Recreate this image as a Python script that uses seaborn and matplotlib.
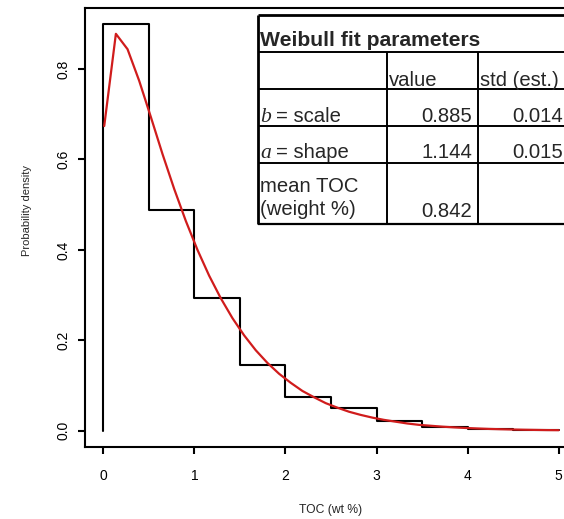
import matplotlib
matplotlib.use("Agg")
import matplotlib.pyplot as plt
import seaborn as sns
import numpy as np
import pandas as pd

# ---------------- data ----------------
bin_edges = [0.0, 0.5, 1.0, 1.5, 2.0, 2.5, 3.0, 3.5, 4.0, 4.5, 5.0]
hist_density = [0.900, 0.488, 0.294, 0.146, 0.075, 0.051, 0.022, 0.009, 0.004, 0.002]

curve_x = [0.010, 0.138, 0.266, 0.394, 0.522, 0.650, 0.778, 0.906, 1.034, 1.162,
           1.290, 1.418, 1.546, 1.674, 1.802, 1.930, 2.058, 2.186, 2.314, 2.442,
           2.570, 2.698, 2.826, 2.954, 3.082, 3.210, 3.338, 3.466, 3.594, 3.722,
           3.850, 3.978, 4.106, 4.234, 4.362, 4.490, 4.618, 4.746, 4.874, 5.000]
curve_y = [0.674, 0.878, 0.844, 0.774, 0.694, 0.612, 0.535, 0.464, 0.400, 0.343,
           0.293, 0.249, 0.211, 0.178, 0.150, 0.126, 0.106, 0.088, 0.074, 0.061,
           0.051, 0.042, 0.035, 0.029, 0.024, 0.020, 0.016, 0.013, 0.011, 0.009,
           0.0074, 0.0061, 0.0050, 0.0040, 0.0033, 0.0027, 0.0022, 0.0018, 0.0014, 0.0012]

x_ticks = [0, 1, 2, 3, 4, 5]
y_ticks = [0.0, 0.2, 0.4, 0.6, 0.8]
y_tick_labels = ["0.0", "0.2", "0.4", "0.6", "0.8"]

table_title = "Weibull fit parameters"
table_header = ["value", "std (est.)"]
param_symbols = ["b", "a"]
param_names = ["= scale", "= shape"]
param_values = ["0.885", "1.144"]
param_std = ["0.014", "0.015"]
mean_label = ["mean TOC", "(weight %)"]
mean_value = "0.842"

# ---------------- style ----------------
sns.set_style("ticks")
plt.rcParams["font.family"] = ["Liberation Sans", "DejaVu Sans"]

W, H = 564, 519
fig = plt.figure(figsize=(W / 100, H / 100), dpi=100)

# axes in pixel geometry (extends beyond right edge as in the reference)
left_px, right_px, top_px, bottom_px = 85.1, 576.9, 7.6, 447.0
ax = fig.add_axes([left_px / W, 1 - bottom_px / H,
                   (right_px - left_px) / W, (bottom_px - top_px) / H])

step_x = [bin_edges[0]] + bin_edges
step_y = [0.0] + hist_density + [hist_density[-1]]
hist_df = pd.DataFrame({"x": step_x, "y": step_y})
sns.lineplot(data=hist_df, x="x", y="y", ax=ax, estimator=None, sort=False,
             drawstyle="steps-post", color="black", linewidth=1.5, zorder=2)

curve_df = pd.DataFrame({"x": curve_x, "y": curve_y})
sns.lineplot(data=curve_df, x="x", y="y", ax=ax, estimator=None, sort=False,
             color="#d01c1c", linewidth=1.6, zorder=3)

ax.set_xlim(-0.2, 5.2)
ax.set_ylim(-0.036, 0.936)
ax.set_xticks(x_ticks)
ax.set_xticklabels([str(v) for v in x_ticks])
ax.set_yticks(y_ticks)
ax.set_yticklabels(y_tick_labels)
ax.set_xlabel("")
ax.set_ylabel("")
for s in ax.spines.values():
    s.set_visible(True)
    s.set_linewidth(1.5)
    s.set_color("black")
ax.tick_params(axis="both", direction="out", length=5.2, width=1.5, colors="black",
               labelsize=10)
ax.tick_params(axis="x", pad=11)
ax.tick_params(axis="y", pad=5, labelrotation=90)
for lab in ax.get_yticklabels():
    lab.set_va("center")
    lab.set_ha("right")
ax.set_facecolor("white")

# axis labels placed in pixel coordinates
fig.text(331 / W, 1 - 510 / H, "TOC (wt %)", ha="center", va="center", fontsize=8.7)
fig.text(27.5 / W, 1 - 211 / H, "Probability density", ha="center", va="center",
         rotation=90, fontsize=8)

# ---------------- table overlay ----------------
ov = fig.add_axes([0, 0, 1, 1], facecolor="none")
ov.set_xlim(0, W)
ov.set_ylim(H, 0)
ov.axis("off")

tl, tt, tb, tr = 258, 15, 224, 600
row_lines = [52, 89, 126, 163]
col_lines = [387, 478]
ov.fill_between([tl, tr], tt, tb, color="white", zorder=1)
for y in row_lines:
    ov.plot([tl, tr], [y, y], color="black", lw=1.4, zorder=2, solid_capstyle="butt")
for x in col_lines:
    ov.plot([x, x], [row_lines[0], tb], color="black", lw=1.4, zorder=2, solid_capstyle="butt")
ov.plot([tl, tr], [tt, tt], color="black", lw=2.0, zorder=3, solid_capstyle="butt")
ov.plot([tl, tr], [tb, tb], color="black", lw=1.6, zorder=3, solid_capstyle="butt")
ov.plot([tl, tl], [tt, tb], color="black", lw=2.0, zorder=3, solid_capstyle="butt")

fs = 14.6
ov.text(260, 46.5, table_title, fontsize=15.2, fontweight="bold", ha="left", va="baseline")
ov.text(388.5, 86, table_header[0], fontsize=fs, ha="left", va="baseline")
ov.text(479.5, 86, table_header[1], fontsize=fs, ha="left", va="baseline")
row_base = [122, 158]
for i in range(2):
    ov.text(260, row_base[i], param_symbols[i], fontsize=fs + 1, ha="left", va="baseline",
            family="Liberation Serif", style="italic")
    ov.text(276.5, row_base[i], param_names[i], fontsize=fs, ha="left", va="baseline")
    ov.text(472.5, row_base[i], param_values[i], fontsize=fs, ha="right", va="baseline")
    ov.text(563, row_base[i], param_std[i], fontsize=fs, ha="right", va="baseline")
ov.text(260, 192, mean_label[0], fontsize=fs, ha="left", va="baseline")
ov.text(260, 215, mean_label[1], fontsize=fs, ha="left", va="baseline")
ov.text(472.5, 217, mean_value, fontsize=fs, ha="right", va="baseline")

fig.savefig("out.png", dpi=100)
